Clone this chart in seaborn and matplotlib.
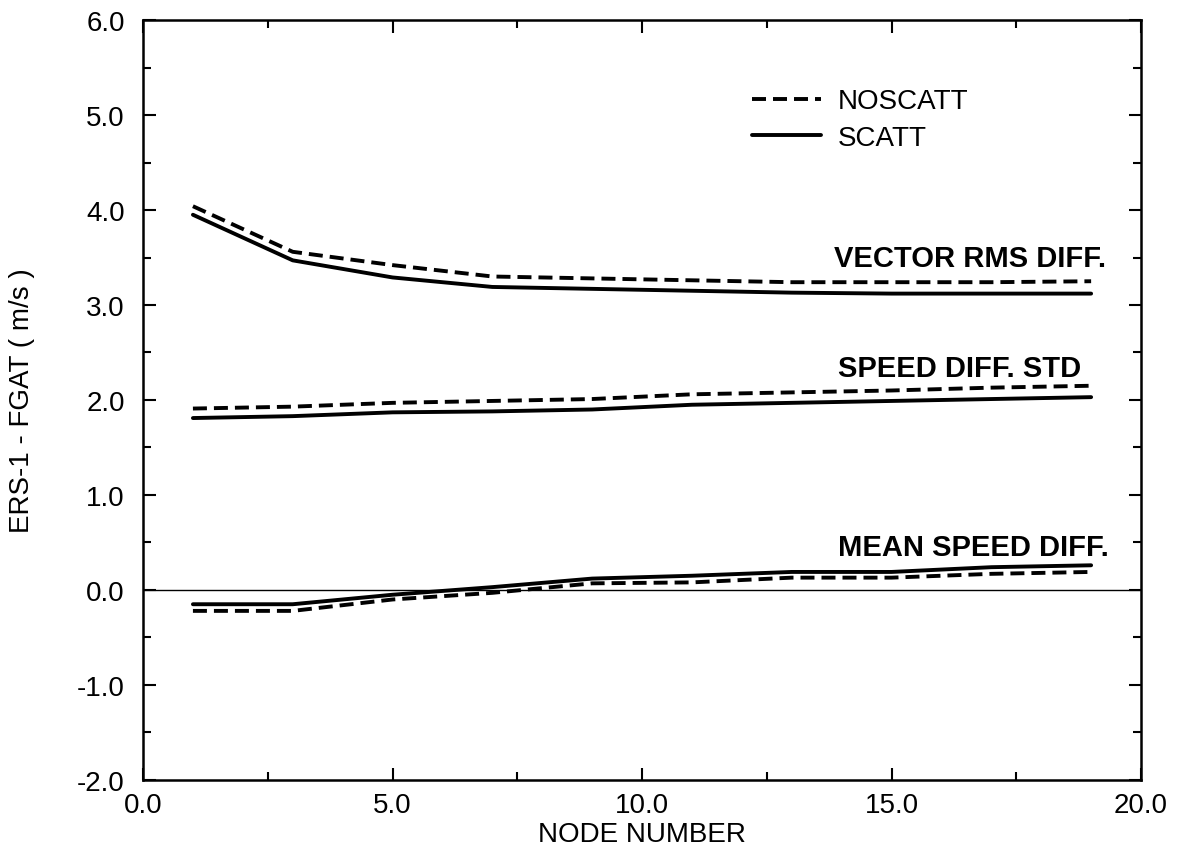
import matplotlib
matplotlib.use("Agg")
import matplotlib.pyplot as plt
from matplotlib.lines import Line2D
from matplotlib.ticker import MultipleLocator, FormatStrFormatter
import numpy as np
import pandas as pd
import seaborn as sns

# Node numbers along the swath
nodes = [1, 3, 5, 7, 9, 11, 13, 15, 17, 19]

# ERS-1 minus FGAT statistics (m/s) for the two runs
vector_rms_noscatt = [4.04, 3.56, 3.42, 3.30, 3.28, 3.26, 3.24, 3.24, 3.24, 3.25]
vector_rms_scatt = [3.95, 3.47, 3.29, 3.19, 3.17, 3.15, 3.13, 3.12, 3.12, 3.12]
speed_std_noscatt = [1.91, 1.93, 1.97, 1.99, 2.01, 2.06, 2.08, 2.10, 2.13, 2.15]
speed_std_scatt = [1.81, 1.83, 1.87, 1.88, 1.90, 1.95, 1.97, 1.99, 2.01, 2.03]
mean_speed_noscatt = [-0.22, -0.22, -0.10, -0.03, 0.07, 0.08, 0.13, 0.13, 0.17, 0.19]
mean_speed_scatt = [-0.15, -0.15, -0.05, 0.03, 0.12, 0.15, 0.19, 0.19, 0.24, 0.26]

runs = ["NOSCATT", "SCATT"]
metric_labels = ["VECTOR RMS DIFF.", "SPEED DIFF. STD", "MEAN SPEED DIFF."]

series = {
    ("VECTOR RMS DIFF.", "NOSCATT"): vector_rms_noscatt,
    ("VECTOR RMS DIFF.", "SCATT"): vector_rms_scatt,
    ("SPEED DIFF. STD", "NOSCATT"): speed_std_noscatt,
    ("SPEED DIFF. STD", "SCATT"): speed_std_scatt,
    ("MEAN SPEED DIFF.", "NOSCATT"): mean_speed_noscatt,
    ("MEAN SPEED DIFF.", "SCATT"): mean_speed_scatt,
}

rows = []
for (metric, run), vals in series.items():
    for n, v in zip(nodes, vals):
        rows.append({"node": n, "value": v, "metric": metric, "run": run})
df = pd.DataFrame(rows)

sns.set_theme(style="ticks")
plt.rcParams["font.family"] = ["Liberation Sans", "DejaVu Sans"]
plt.rcParams.update({
    "text.color": "black",
    "axes.labelcolor": "black",
    "xtick.color": "black",
    "ytick.color": "black",
    "axes.edgecolor": "black",
})

fig = plt.figure(figsize=(11.84, 8.54), dpi=100)
ax = fig.add_axes([0.1208, 0.0855, 0.8429, 0.8899])

dash_styles = {"NOSCATT": (3.6, 1.8), "SCATT": ""}
sns.lineplot(
    data=df, x="node", y="value", units="metric", estimator=None,
    style="run", style_order=runs, dashes=dash_styles,
    color="black", linewidth=2.8, legend=False, ax=ax,
)

# zero reference line
ax.axhline(0.0, color="black", linewidth=1.0)

ax.set_xlim(0, 20)
ax.set_ylim(-2, 6)
ax.xaxis.set_major_locator(MultipleLocator(5))
ax.xaxis.set_minor_locator(MultipleLocator(2.5))
ax.yaxis.set_major_locator(MultipleLocator(1))
ax.yaxis.set_minor_locator(MultipleLocator(0.5))
ax.xaxis.set_major_formatter(FormatStrFormatter("%.1f"))
ax.yaxis.set_major_formatter(FormatStrFormatter("%.1f"))

ax.tick_params(which="both", direction="in", top=True, right=True,
               color="black", labelcolor="black", width=1.5)
ax.tick_params(which="major", length=9, labelsize=20)
ax.tick_params(which="minor", length=6)
ax.tick_params(axis="y", which="major", pad=13)
ax.tick_params(axis="x", which="major", pad=9)

for s in ax.spines.values():
    s.set_color("black")
    s.set_linewidth(1.8)

ax.set_xlabel("NODE NUMBER", fontsize=20, labelpad=2, color="black")
ax.set_ylabel("ERS-1 - FGAT ( m/s )", fontsize=20, labelpad=30, color="black")

# curve labels
label_pos = {
    "VECTOR RMS DIFF.": (19.3, 3.49),
    "SPEED DIFF. STD": (18.8, 2.34),
    "MEAN SPEED DIFF.": (19.35, 0.45),
}
for name in metric_labels:
    x, y = label_pos[name]
    ax.text(x, y, name, ha="right", va="center", fontsize=21,
            fontweight="bold", color="black")

handles = [
    Line2D([], [], color="black", linewidth=2.8, dashes=dash_styles["NOSCATT"]),
    Line2D([], [], color="black", linewidth=2.8),
]
leg = ax.legend(handles, runs, loc="upper left", bbox_to_anchor=(0.585, 0.943),
                frameon=False, fontsize=20, handlelength=2.5, handletextpad=0.58,
                labelspacing=0.38)
for t in leg.get_texts():
    t.set_color("black")

fig.savefig("out.png", dpi=100, facecolor="white")
